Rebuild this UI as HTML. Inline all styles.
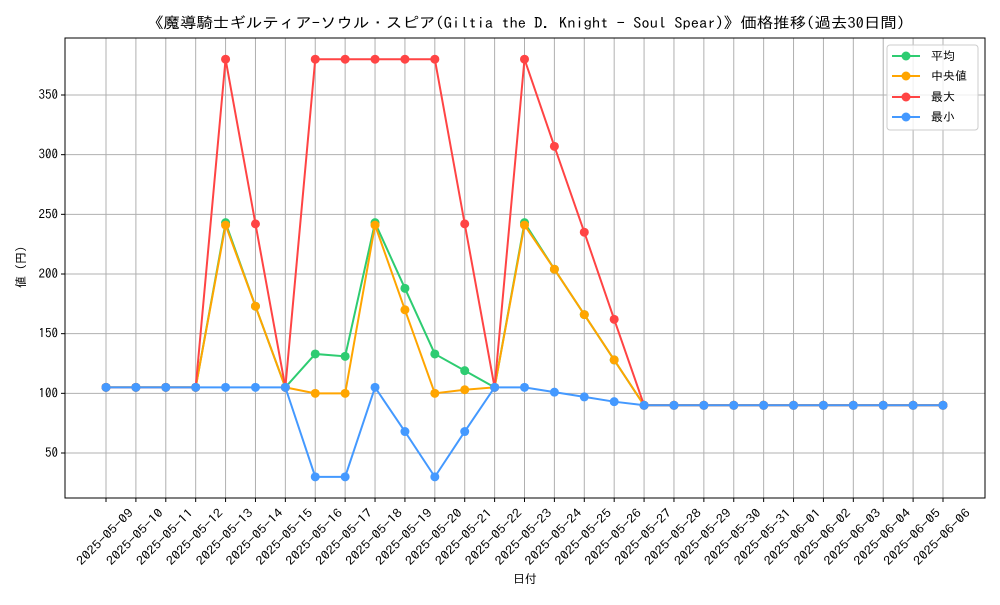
<!DOCTYPE html>
<html><head><meta charset="utf-8"><style>
body{margin:0;background:#fff}
svg text{font-family:"IPAGothic","Noto Sans CJK JP",sans-serif;fill:#000}
</style></head><body>
<svg id="chart" width="1000" height="600" xmlns="http://www.w3.org/2000/svg"></svg>
<script>
const dates=["2025-05-09","2025-05-10","2025-05-11","2025-05-12","2025-05-13","2025-05-14","2025-05-15","2025-05-16","2025-05-17","2025-05-18","2025-05-19","2025-05-20","2025-05-21","2025-05-22","2025-05-23","2025-05-24","2025-05-25","2025-05-26","2025-05-27","2025-05-28","2025-05-29","2025-05-30","2025-05-31","2025-06-01","2025-06-02","2025-06-03","2025-06-04","2025-06-05","2025-06-06"];
const avgVals=[105,105,105,105,243,173,105,133,131,243,188,133,119,105,243,204,166,128,90,90,90,90,90,90,90,90,90,90,90];
const medVals=[105,105,105,105,241,173,105,100,100,241,170,100,103,105,241,204,166,128,90,90,90,90,90,90,90,90,90,90,90];
const maxVals=[105,105,105,105,380,242,105,380,380,380,380,380,242,105,380,307,235,162,90,90,90,90,90,90,90,90,90,90,90];
const minVals=[105,105,105,105,105,105,105,30,30,105,68,30,68,105,105,101,97,93,90,90,90,90,90,90,90,90,90,90,90];
const yTicks=[50,100,150,200,250,300,350];
const NS="http://www.w3.org/2000/svg";
const svg=document.getElementById('chart');
const L=65,R=985,T=38,B=498;
const x=i=>106+i*(943-106)/(dates.length-1);
const y=v=>453-(v-50)*(358/300);
function mk(t,a,p){const e=document.createElementNS(NS,t);for(const k in a)e.setAttribute(k,a[k]);(p||svg).appendChild(e);return e;}
dates.forEach((d,i)=>{const g=mk('line',{x1:x(i),x2:x(i),y1:T,y2:B,stroke:'#b0b0b0','stroke-width':1});

mk('line',{x1:x(i),x2:x(i),y1:B,y2:B+4,stroke:'#000'});
const cx=x(i)-1,cy=537;
const t=mk('text',{x:cx,y:cy+4,'font-size':12,'text-anchor':'middle',textLength:74,lengthAdjust:'spacingAndGlyphs',transform:`rotate(-45 ${cx} ${cy})`});t.textContent=d;
});
yTicks.forEach(v=>{const g=mk('line',{x1:L,x2:R,y1:y(v),y2:y(v),stroke:'#b0b0b0','stroke-width':1});

mk('line',{x1:L-4,x2:L,y1:y(v),y2:y(v),stroke:'#000'});
const t=mk('text',{x:L-7,y:y(v)+4,'font-size':13,'text-anchor':'end'});t.textContent=v;
});
const fr=mk('rect',{x:L,y:T,width:R-L,height:B-T,fill:'none',stroke:'#000','stroke-width':1});

const series=[["avg",avgVals,"#2ecc71"],["median",medVals,"#ffa500"],["max",maxVals,"#ff4444"],["min",minVals,"#4499ff"]];
series.forEach(([n,vals,c])=>{const g=mk('g',{});
mk('polyline',{points:vals.map((v,i)=>x(i)+','+y(v)).join(' '),fill:'none',stroke:c,'stroke-width':2},g);
vals.forEach((v,i)=>{const p=mk('circle',{cx:x(i),cy:y(v),r:4.5,fill:c},g);});});
</script>
<svg style="position:absolute;left:0;top:0" width="1000" height="600" xmlns="http://www.w3.org/2000/svg">
<text x="526" y="28" font-size="15" text-anchor="middle" textLength="758" lengthAdjust="spacingAndGlyphs">《魔導騎士ギルティア-ソウル・スピア(Giltia the D. Knight - Soul Spear)》価格推移(過去30日間)</text>
<text x="525" y="583" font-size="12" text-anchor="middle">日付</text>
<text x="25" y="267" font-size="12" text-anchor="middle" transform="rotate(-90 25 267)">値 (円)</text>
<g>
<rect x="887" y="45" width="91" height="85" rx="3" fill="#fff" fill-opacity="0.8" stroke="#ccc"/>
<line x1="892" x2="920" y1="56" y2="56" stroke="#2ecc71" stroke-width="2"/><circle cx="906" cy="56" r="4.5" fill="#2ecc71"/><text x="931" y="60" font-size="12">平均</text>
<line x1="892" x2="920" y1="76" y2="76" stroke="#ffa500" stroke-width="2"/><circle cx="906" cy="76" r="4.5" fill="#ffa500"/><text x="931" y="80" font-size="12"> 中央値</text>
<line x1="892" x2="920" y1="97" y2="97" stroke="#ff4444" stroke-width="2"/><circle cx="906" cy="97" r="4.5" fill="#ff4444"/><text x="931" y="101" font-size="12">最大</text>
<line x1="892" x2="920" y1="117" y2="117" stroke="#4499ff" stroke-width="2"/><circle cx="906" cy="117" r="4.5" fill="#4499ff"/><text x="931" y="121" font-size="12">最小</text>
</g></svg>
</body></html>
